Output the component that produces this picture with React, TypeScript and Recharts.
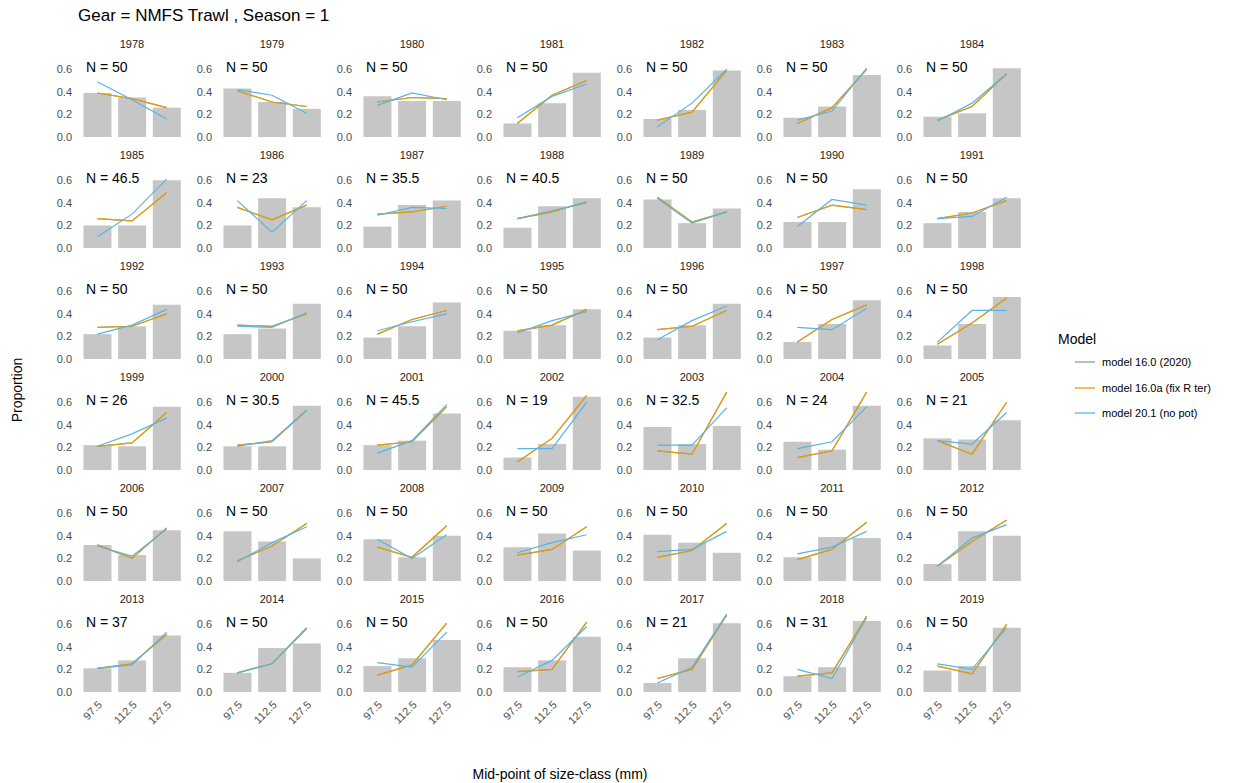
import { ComposedChart, Bar, Line, XAxis, YAxis } from "recharts";

const years = [
  1978, 1979, 1980, 1981, 1982, 1983, 1984,
  1985, 1986, 1987, 1988, 1989, 1990, 1991,
  1992, 1993, 1994, 1995, 1996, 1997, 1998,
  1999, 2000, 2001, 2002, 2003, 2004, 2005,
  2006, 2007, 2008, 2009, 2010, 2011, 2012,
  2013, 2014, 2015, 2016, 2017, 2018, 2019,
];
const nLabels = [
  "50", "50", "50", "50", "50", "50", "50",
  "46.5", "23", "35.5", "40.5", "50", "50", "50",
  "50", "50", "50", "50", "50", "50", "50",
  "26", "30.5", "45.5", "19", "32.5", "24", "21",
  "50", "50", "50", "50", "50", "50", "50",
  "37", "50", "50", "50", "21", "31", "50",
];
const sizeClasses = ["97.5", "112.5", "127.5"];
const observed = [
  [0.39, 0.35, 0.26], [0.43, 0.31, 0.25], [0.36, 0.32, 0.32], [0.12, 0.3, 0.57], [0.16, 0.24, 0.59], [0.17, 0.27, 0.55], [0.18, 0.21, 0.61],
  [0.2, 0.2, 0.6], [0.2, 0.44, 0.36], [0.19, 0.38, 0.42], [0.18, 0.37, 0.44], [0.43, 0.22, 0.35], [0.23, 0.23, 0.52], [0.22, 0.32, 0.44],
  [0.22, 0.29, 0.48], [0.22, 0.27, 0.49], [0.19, 0.29, 0.5], [0.25, 0.3, 0.44], [0.19, 0.3, 0.49], [0.15, 0.31, 0.52], [0.12, 0.31, 0.55],
  [0.22, 0.21, 0.56], [0.21, 0.21, 0.57], [0.22, 0.26, 0.5], [0.11, 0.23, 0.65], [0.38, 0.23, 0.39], [0.25, 0.18, 0.57], [0.28, 0.27, 0.44],
  [0.32, 0.23, 0.45], [0.44, 0.35, 0.2], [0.37, 0.21, 0.4], [0.3, 0.42, 0.27], [0.41, 0.34, 0.25], [0.21, 0.39, 0.38], [0.15, 0.44, 0.4],
  [0.21, 0.28, 0.5], [0.17, 0.39, 0.43], [0.23, 0.3, 0.46], [0.22, 0.28, 0.49], [0.08, 0.3, 0.61], [0.14, 0.22, 0.63], [0.19, 0.23, 0.57],
];
const model160a = [
  [0.39, 0.34, 0.26], [0.41, 0.31, 0.27], [0.31, 0.35, 0.34], [0.12, 0.37, 0.5], [0.15, 0.22, 0.59], [0.12, 0.26, 0.6], [0.15, 0.27, 0.56],
  [0.26, 0.24, 0.49], [0.36, 0.25, 0.38], [0.3, 0.32, 0.37], [0.26, 0.32, 0.41], [0.45, 0.23, 0.32], [0.27, 0.38, 0.34], [0.26, 0.31, 0.42],
  [0.28, 0.29, 0.4], [0.3, 0.29, 0.4], [0.22, 0.35, 0.43], [0.25, 0.3, 0.44], [0.26, 0.29, 0.43], [0.15, 0.35, 0.48], [0.13, 0.32, 0.54],
  [0.21, 0.24, 0.51], [0.22, 0.25, 0.53], [0.22, 0.25, 0.56], [0.07, 0.28, 0.66], [0.17, 0.14, 0.69], [0.11, 0.17, 0.69], [0.26, 0.14, 0.6],
  [0.32, 0.2, 0.47], [0.18, 0.31, 0.51], [0.3, 0.21, 0.49], [0.23, 0.28, 0.48], [0.21, 0.27, 0.51], [0.19, 0.28, 0.52], [0.13, 0.35, 0.54],
  [0.21, 0.25, 0.51], [0.17, 0.25, 0.57], [0.15, 0.24, 0.61], [0.18, 0.2, 0.62], [0.12, 0.2, 0.68], [0.14, 0.17, 0.67], [0.23, 0.16, 0.6],
];
const model201 = [
  [0.49, 0.33, 0.16], [0.42, 0.37, 0.21], [0.28, 0.39, 0.33], [0.17, 0.36, 0.47], [0.09, 0.3, 0.6], [0.15, 0.23, 0.61], [0.14, 0.3, 0.56],
  [0.1, 0.3, 0.61], [0.42, 0.14, 0.42], [0.29, 0.36, 0.35], [0.26, 0.33, 0.4], [0.44, 0.22, 0.32], [0.19, 0.43, 0.38], [0.26, 0.28, 0.45],
  [0.22, 0.3, 0.44], [0.29, 0.28, 0.41], [0.25, 0.33, 0.4], [0.23, 0.34, 0.42], [0.17, 0.34, 0.47], [0.28, 0.26, 0.45], [0.15, 0.43, 0.43],
  [0.21, 0.32, 0.46], [0.21, 0.26, 0.53], [0.15, 0.26, 0.58], [0.19, 0.19, 0.6], [0.22, 0.22, 0.55], [0.19, 0.25, 0.56], [0.26, 0.23, 0.51],
  [0.31, 0.22, 0.46], [0.17, 0.34, 0.48], [0.37, 0.2, 0.41], [0.25, 0.34, 0.41], [0.26, 0.28, 0.44], [0.24, 0.3, 0.44], [0.13, 0.38, 0.5],
  [0.21, 0.24, 0.53], [0.17, 0.25, 0.56], [0.26, 0.22, 0.53], [0.13, 0.28, 0.58], [0.08, 0.22, 0.69], [0.2, 0.12, 0.66], [0.25, 0.2, 0.57],
];
// model 16.0 is hidden under 16.0a in the reference
const model160 = model160a;
const yTicks = [0, 0.2, 0.4, 0.6];

const FONT = "'Liberation Sans', Arial, sans-serif";
const GREY = "#999999";
const ORANGE = "#E69F00";
const BLUE = "#56B4E9";
const PLOT_W = 104;
const PLOT_H = 79;
const Y_AXIS_W = 36;
const PAD = 8;

function Panel({ i }: { i: number }) {
  const col = i % 7;
  const row = Math.floor(i / 7);
  const last = row === 5;
  const left = 80 + col * 140;
  const top = 58 + row * 111;
  const data = sizeClasses.map((s, k) => ({
    size: s,
    obs: observed[i][k],
    m160: model160[i][k],
    m160a: model160a[i][k],
    m201: model201[i][k],
  }));
  return (
    <>
      <div style={{ position: "absolute", left, top: top - 20, width: PLOT_W, textAlign: "center", fontSize: 11, color: "#1a1a1a" }}>
        {years[i]}
      </div>
      <div style={{ position: "absolute", left: left - Y_AXIS_W, top: top - PAD }}>
        <ComposedChart
          width={PLOT_W + Y_AXIS_W}
          height={PLOT_H + PAD + (last ? 45 : PAD)}
          data={data}
          margin={{ top: PAD, right: 0, left: 0, bottom: last ? 0 : PAD }}
          barCategoryGap="10%"
        >
          <XAxis
            dataKey="size"
            hide={!last}
            height={45}
            axisLine={false}
            tickLine={false}
            interval={0}
            angle={-45}
            textAnchor="end"
            tick={{ fontSize: 11, fill: "#4d4d4d", fontFamily: FONT }}
          />
          <YAxis
            width={Y_AXIS_W}
            domain={[0, 0.7]}
            ticks={yTicks}
            interval={0}
            tickFormatter={(v: number) => v.toFixed(1)}
            axisLine={false}
            tickLine={false}
            tick={{ fontSize: 11, fill: "#4d4d4d", fontFamily: FONT }}
          />
          <Bar dataKey="obs" fill="#c6c6c6" isAnimationActive={false} />
          <Line dataKey="m160" stroke={GREY} strokeWidth={1.2} dot={false} isAnimationActive={false} />
          <Line dataKey="m160a" stroke={ORANGE} strokeWidth={1.2} dot={false} isAnimationActive={false} />
          <Line dataKey="m201" stroke={BLUE} strokeWidth={1.2} dot={false} isAnimationActive={false} />
        </ComposedChart>
      </div>
      <div style={{ position: "absolute", left: left + 6, top: top + 1, fontSize: 14, color: "#000" }}>
        N = {nLabels[i]}
      </div>
    </>
  );
}

const legendItems = [
  { label: "model 16.0 (2020)", color: GREY },
  { label: "model 16.0a (fix R ter)", color: ORANGE },
  { label: "model 20.1 (no pot)", color: BLUE },
];

export default function App() {
  return (
    <div style={{ position: "absolute", left: 0, top: 0, width: 1252, height: 783, background: "#fff", fontFamily: FONT }}>
      <div style={{ position: "absolute", left: 78, top: 6, fontSize: 17 }}>Gear = NMFS Trawl , Season = 1</div>
      {years.map((_, i) => (
        <Panel key={i} i={i} />
      ))}
      <div style={{ position: "absolute", left: 17, top: 390, fontSize: 14, transform: "translate(-50%, -50%) rotate(-90deg)", whiteSpace: "nowrap" }}>
        Proportion
      </div>
      <div style={{ position: "absolute", left: 560, top: 766, fontSize: 14, transform: "translateX(-50%)", whiteSpace: "nowrap" }}>
        Mid-point of size-class (mm)
      </div>
      <div style={{ position: "absolute", left: 1058, top: 331, fontSize: 14 }}>Model</div>
      {legendItems.map((it, k) => (
        <div key={k} style={{ position: "absolute", left: 1074, top: 355 + k * 25.5, display: "flex", alignItems: "center", fontSize: 11 }}>
          <svg width={22} height={14} style={{ marginRight: 6 }}>
            <line x1={1} x2={21} y1={7} y2={7} stroke={it.color} strokeWidth={1.3} />
          </svg>
          {it.label}
        </div>
      ))}
    </div>
  );
}
